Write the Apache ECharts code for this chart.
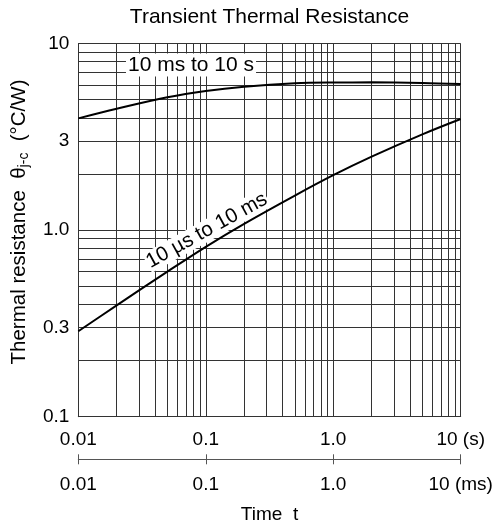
<!DOCTYPE html>
<html><head><meta charset="utf-8">
<script src="https://cdn.jsdelivr.net/npm/echarts@6/dist/echarts.min.js"></script>
<style>html,body{margin:0;padding:0;background:#fff}#c{width:497px;height:528px}</style>
</head><body><div id="c"></div>
<script>
// ---- data ----
const longTime = [0.01, 0.02, 0.05, 0.1, 0.2, 0.5, 1, 2, 5, 10]; // s
const longRth  = [3.97, 4.47, 5.15, 5.57, 5.87, 6.12, 6.18, 6.19, 6.15, 6.07];
const shortTime = [0.01, 0.02, 0.05, 0.1, 0.2, 0.5, 1, 2, 5, 10]; // ms
const shortRth  = [0.287, 0.395, 0.599, 0.814, 1.081, 1.532, 1.97, 2.476, 3.26, 3.94];
const xTickValues = [0.01, 0.1, 1, 10];
const xTopLabels = ['0.01', '0.1', '1.0', '10 (s)'];
const xBottomLabels = ['0.01', '0.1', '1.0', '10 (ms)'];
const yTickValues = [0.1, 0.3, 1, 3, 10];
const yTickLabels = ['0.1', '0.3', '1.0', '3', '10'];
const gridMantissas = [1, 2, 3, 4, 5, 6, 7, 8, 9];
const xDecades = [0.01, 0.1, 1];
const yDecades = [0.1, 1];
const titleText = 'Transient Thermal Resistance';
const longLabel = '10 ms to 10 s';
const shortLabel = '10 µs to 10 ms';
const xName = 'Time  t';

// ---- build ----
const FONT = 'Liberation Sans, Arial, Helvetica, sans-serif';
function gridVals(decs, top) {
  const out = [];
  decs.forEach(d => gridMantissas.forEach(m => out.push(+(m * d).toPrecision(3))));
  out.push(top);
  return out;
}
const xGrid = gridVals(xDecades, 10);
const yGrid = gridVals(yDecades, 10);
function labelFor(values, labels, v) {
  let best = 0, bd = Infinity;
  values.forEach((t, i) => { const d = Math.abs(Math.log10(t) - Math.log10(v)); if (d < bd) { bd = d; best = i; } });
  return bd < 0.01 ? labels[best] : '';
}
const gridLineStyle = { color: '#333', width: 1, type: 'solid' };
const markData = [];
xGrid.forEach(v => markData.push({ xAxis: v, label: { show: false } }));
yGrid.forEach(v => {
  const lab = labelFor(yTickValues, yTickLabels, v);
  markData.push({ yAxis: v, label: lab ? { show: true, position: 'start', formatter: lab, distance: 9,
    fontSize: 19, color: '#000', fontFamily: FONT } : { show: false } });
});

const chart = echarts.init(document.getElementById('c'), null, { renderer: 'canvas' });
const logX = (extra) => Object.assign({
  type: 'log', logBase: 10, min: 0.01, max: 10, gridIndex: 0, position: 'bottom',
  splitLine: { show: false }, minorTick: { show: false }, minorSplitLine: { show: false }
}, extra);

chart.setOption({
  animation: false,
  backgroundColor: '#fff',
  grid: { left: 78.3, right: 36.3, top: 43.5, bottom: 111.3, containLabel: false, outerBoundsMode: 'none' },
  xAxis: [
    logX({
      axisLine: { show: true, lineStyle: { color: '#333', width: 1 } },
      axisTick: { show: false },
      axisLabel: { show: true, margin: 14, fontSize: 19, color: '#000', fontFamily: FONT,
        formatter: v => labelFor(xTickValues, xTopLabels, v) }
    }),
    logX({
      offset: 42.6,
      axisLine: { show: true, lineStyle: { color: '#555', width: 1 } },
      axisTick: { show: true, inside: true, length: 5, lineStyle: { color: '#555' } },
      axisLabel: { show: true, margin: 16, fontSize: 19, color: '#000', fontFamily: FONT,
        formatter: v => labelFor(xTickValues, xBottomLabels, v) },
      name: xName, nameLocation: 'middle', nameGap: 46,
      nameTextStyle: { fontSize: 19, color: '#000', fontFamily: FONT }
    }),
    logX({
      offset: 42.6,
      axisLine: { show: false },
      axisTick: { show: true, inside: false, length: 5, lineStyle: { color: '#555' } },
      axisLabel: { show: false }
    })
  ],
  yAxis: [{
    type: 'log', logBase: 10, min: 0.1, max: 10,
    axisLine: { show: true, lineStyle: { color: '#333', width: 1 } },
    axisTick: { show: false }, axisLabel: { show: false },
    splitLine: { show: false }, minorTick: { show: false }, minorSplitLine: { show: false }
  }],
  series: [
    {
      name: longLabel, type: 'line', xAxisIndex: 0, yAxisIndex: 0,
      data: longTime.map((t, i) => [t, longRth[i]]),
      showSymbol: false, smooth: 0.35, z: 5,
      lineStyle: { color: '#000', width: 2 },
      markLine: {
        silent: true, symbol: ['none', 'none'], animation: false,
        lineStyle: gridLineStyle, emphasis: { disabled: true },
        data: markData, z: 1
      }
    },
    {
      name: shortLabel, type: 'line', xAxisIndex: 1, yAxisIndex: 0,
      data: shortTime.map((t, i) => [t, shortRth[i]]),
      showSymbol: false, smooth: 0.35, z: 5,
      lineStyle: { color: '#000', width: 2 }
    }
  ]
});

// text annotations tied to the axes
const pLong = chart.convertToPixel({ xAxisIndex: 0, yAxisIndex: 0 }, [0.0766, 7.67]);
const pShort = chart.convertToPixel({ xAxisIndex: 1, yAxisIndex: 0 }, [0.102, 0.995]);
const gridRect = { l: 78.3, r: 460.7 };
chart.setOption({
  graphic: [
    { type: 'text', x: (gridRect.l + gridRect.r) / 2, y: 17, z: 20,
      style: { text: titleText, font: '21px ' + FONT, fill: '#000', align: 'center', verticalAlign: 'middle' } },
    { type: 'text', x: pLong[0], y: pLong[1], z: 20,
      style: { text: longLabel, font: '21px ' + FONT, fill: '#000', align: 'center', verticalAlign: 'middle',
        backgroundColor: '#fff', padding: [1, 2] } },
    { type: 'text', x: pShort[0], y: pShort[1], z: 20, rotation: 29 * Math.PI / 180,
      style: { text: shortLabel, font: '20.5px ' + FONT, fill: '#000', align: 'center', verticalAlign: 'middle',
        backgroundColor: '#fff', padding: [0, 1] } },
    { type: 'text', x: 19, y: 222, z: 20, rotation: Math.PI / 2,
      style: {
        text: '{a|Thermal resistance  θ}{s|j-c}{a|  (°C/W)}', align: 'center', verticalAlign: 'middle', fill: '#000',
        rich: {
          a: { fontSize: 20.5, fontFamily: FONT, fill: '#000', lineHeight: 25, verticalAlign: 'middle' },
          s: { fontSize: 14, fontFamily: FONT, fill: '#000', lineHeight: 25, verticalAlign: 'bottom' }
        }
      } }
  ]
});
</script></body></html>
